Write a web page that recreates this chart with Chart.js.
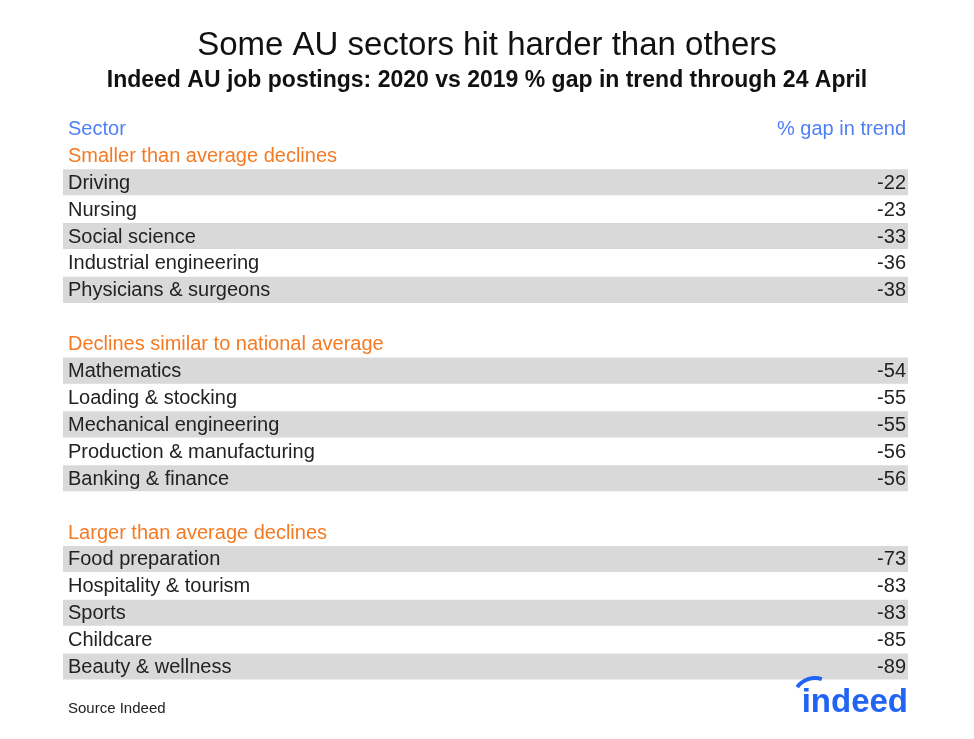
<!DOCTYPE html>
<html><head><meta charset="utf-8">
<script src="https://cdn.jsdelivr.net/npm/chart.js@4"></script>
<style>html,body{margin:0;padding:0;background:#fff}#w{width:974px;height:739px}</style>
</head><body><div id="w"><canvas id="c"></canvas></div>
<script>
const rowLabels = ["Sector","Smaller than average declines","Driving","Nursing","Social science","Industrial engineering","Physicians & surgeons","",
 "Declines similar to national average","Mathematics","Loading & stocking","Mechanical engineering","Production & manufacturing","Banking & finance","",
 "Larger than average declines","Food preparation","Hospitality & tourism","Sports","Childcare","Beauty & wellness"];
const rowKinds = ["head","group","row","row","row","row","row","blank","group","row","row","row","row","row","blank","group","row","row","row","row","row"];
const gapValues = [null,null,-22,-23,-33,-36,-38,null,null,-54,-55,-55,-56,-56,null,null,-73,-83,-83,-85,-89];
const shaded = [null,null,1,null,1,null,1,null,null,1,null,1,null,1,null,null,1,null,1,null,1];
const valueHeader = "% gap in trend";
const titleText = "Some AU sectors hit harder than others";
const subtitleText = "Indeed AU job postings: 2020 vs 2019 % gap in trend through 24 April";

const textPlugin = {
  id:'txt',
  afterDatasetsDraw(chart){
    const ctx = chart.ctx, y = chart.scales.y, a = chart.chartArea;
    ctx.save();
    ctx.textBaseline='middle';
    ctx.fillStyle='#111';
    ctx.textAlign='center';
    ctx.font='33px "Liberation Sans", Arial, sans-serif';
    ctx.fillText(titleText, 487, 46);
    ctx.font='bold 23px "Liberation Sans", Arial, sans-serif';
    ctx.fillText(subtitleText, 487, 81);
    rowLabels.forEach((lab,i)=>{
      const py = y.getPixelForValue(i)+1;
      const k = rowKinds[i];
      ctx.font='20px "Liberation Sans", Arial, sans-serif';
      ctx.fillStyle = k==='head' ? '#4f7ff5' : k==='group' ? '#f47a24' : '#222';
      ctx.textAlign='left';
      ctx.fillText(lab, a.left+5, py);
      ctx.textAlign='right';
      if(k==='head') ctx.fillText(valueHeader, a.right-2, py);
      if(gapValues[i]!==null) ctx.fillText(String(gapValues[i]), a.right-2, py);
    });
    ctx.textAlign='left';
    ctx.fillStyle='#222';
    ctx.font='15px "Liberation Sans", Arial, sans-serif';
    ctx.fillText('Source Indeed', 68, 709);
    ctx.fillStyle='#2164f3';
    ctx.font='bold 33px "Liberation Sans", Arial, sans-serif';
    ctx.textAlign='right';
    ctx.fillText('indeed', 908, 703);
    ctx.strokeStyle='#2164f3'; ctx.lineWidth=4;
    ctx.beginPath(); ctx.arc(815,700,22,Math.PI*1.2,Math.PI*1.6); ctx.stroke();
    ctx.restore();
  }
};

new Chart(document.getElementById('c'),{
  type:'bar',
  data:{labels:rowLabels,datasets:[{data:shaded,backgroundColor:'#d9d9d9',barPercentage:1,categoryPercentage:0.97,borderWidth:0}]},
  options:{
    indexAxis:'y',responsive:true,maintainAspectRatio:false,animation:false,
    layout:{padding:{left:63,right:66,top:115,bottom:59}},
    scales:{x:{display:false,min:0,max:1},y:{display:false}},
    plugins:{legend:{display:false},tooltip:{enabled:false}}
  },
  plugins:[textPlugin]
});
</script></body></html>
